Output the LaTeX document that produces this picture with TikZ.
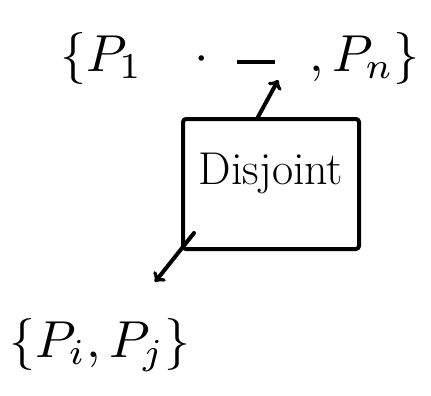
\documentclass[tikz,border=0pt]{standalone}
\usetikzlibrary{positioning}
\begin{document}
\begin{tikzpicture}[x=1pt, y=-1pt,
    ink/.style={line width=4pt, line cap=round, line join=round},
    big/.style={scale=5.2, inner sep=0.2pt}]
  \useasboundingbox (0,0) rectangle (431,396);

  % The whole family of sets
  \node[big, anchor=west] (first) at (58,58) {$\{P_1\quad\cdot$};
  \node[inner sep=1pt] (dash) at (256,62) {\rule{38pt}{4pt}};
  \node[big, anchor=east] (last) at (422,58) {$,P_n\}$};

  % The box
  \node[ink, draw, rounded corners=3pt, minimum width=176pt, minimum height=130pt,
        text depth=30pt, font=\fontsize{46}{54}\selectfont] (box) at (271,184) {Disjoint};

  % The chosen pair
  \node[big] (pair) at (100,345) {$\{P_i, P_j\}$};
  \coordinate (tip) at (155,282);

  % Arrows out of the box
  \draw[ink, ->] ([xshift=-13pt]box.north) -- ([xshift=2pt, yshift=-18pt]dash.east);
  \draw[ink, ->] ([xshift=13pt, yshift=18pt]box.south west) -- (tip);
\end{tikzpicture}
\end{document}
